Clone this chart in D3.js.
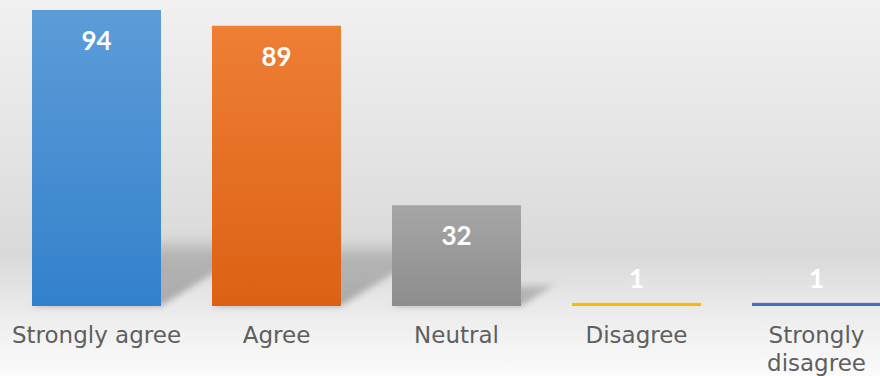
<!DOCTYPE html>
<html>
<head>
<meta charset="utf-8">
<script src="https://cdn.jsdelivr.net/npm/d3@7"></script>
<style>
  html, body { margin: 0; padding: 0; background: #fff; }
  svg { display: block; }
</style>
</head>
<body>
<div id="chart"></div>
<script>
// data
const categories = ['Strongly agree', 'Agree', 'Neutral', 'Disagree', 'Strongly disagree'];
const responses = [94, 89, 32, 1, 1];

// styling
const barTop = ['#5d9cd8', '#ee7f35', '#a6a6a6', '#ffc000', '#4a76c6'];
const barBottom = ['#3381cc', '#dc6114', '#8d8d8d', '#f2b400', '#3f68b8'];

const width = 880;
const height = 376;
const baseY = 306;
const topY = 10;

const catFont = '23px "DejaVu Sans", sans-serif';
const valFont = 'bold 26px Lato, "Open Sans", sans-serif';

const xScale = d3.scaleBand()
    .domain(categories)
    .range([6.5, 906.5])
    .paddingInner(0.2833)
    .paddingOuter(0.1417);

const yScale = d3.scaleLinear()
    .domain([0, 94])
    .range([baseY, topY]);

const svg = d3.select('#chart')
    .append('svg')
    .attr('width', width)
    .attr('height', height);

const defs = svg.append('defs');

// background
const bg = defs.append('linearGradient')
    .attr('id', 'bg')
    .attr('x1', 0).attr('y1', 0).attr('x2', 0).attr('y2', 1);
bg.append('stop').attr('offset', '0%').attr('stop-color', '#f1f1f1');
bg.append('stop').attr('offset', '45%').attr('stop-color', '#e2e2e2');
bg.append('stop').attr('offset', '68%').attr('stop-color', '#d9d9d9');
bg.append('stop').attr('offset', '85%').attr('stop-color', '#eeeeee');
bg.append('stop').attr('offset', '100%').attr('stop-color', '#fbfbfb');

svg.append('rect')
    .attr('width', width)
    .attr('height', height)
    .attr('fill', 'url(#bg)');

// gradients per bar
categories.forEach((c, i) => {
    const gr = defs.append('linearGradient')
        .attr('id', `bar${i}`)
        .attr('x1', 0).attr('y1', 0).attr('x2', 0).attr('y2', 1);
    gr.append('stop').attr('offset', '0%').attr('stop-color', barTop[i]);
    gr.append('stop').attr('offset', '100%').attr('stop-color', barBottom[i]);
});

const blur = defs.append('filter')
    .attr('id', 'blur')
    .attr('x', '-20%').attr('y', '-20%')
    .attr('width', '140%').attr('height', '140%');
blur.append('feGaussianBlur').attr('stdDeviation', 3);

const shadeGrad = defs.append('linearGradient')
    .attr('id', 'shade')
    .attr('x1', 0).attr('y1', 0).attr('x2', 0).attr('y2', 1);
shadeGrad.append('stop').attr('offset', '0%').attr('stop-color', '#9a9a9a').attr('stop-opacity', 0);
shadeGrad.append('stop').attr('offset', '30%').attr('stop-color', '#9a9a9a').attr('stop-opacity', 0.6);
shadeGrad.append('stop').attr('offset', '100%').attr('stop-color', '#9a9a9a').attr('stop-opacity', 0.8);

const data = categories.map((c, i) => ({cat: c, val: responses[i], i: i}));

// perspective shadows
svg.append('g')
    .attr('filter', 'url(#blur)')
    .selectAll('path')
    .data(data.filter(d => d.val > 5))
    .join('path')
    .attr('fill', 'url(#shade)')
    .attr('d', d => {
        const x0 = xScale(d.cat);
        const x1 = x0 + xScale.bandwidth();
        const h = baseY - yScale(d.val);
        const sh = h * 0.24;
        const dx = sh * 1.6;
        return `M${x0},${baseY}L${x1},${baseY}L${x1 + dx},${baseY - sh}L${x0 + dx},${baseY - sh}Z`;
    });

// bars
svg.append('g')
    .selectAll('rect')
    .data(data)
    .join('rect')
    .attr('x', d => xScale(d.cat))
    .attr('y', d => yScale(d.val))
    .attr('width', xScale.bandwidth())
    .attr('height', d => baseY - yScale(d.val))
    .attr('fill', d => `url(#bar${d.i})`);

// value labels
svg.append('g')
    .selectAll('text')
    .data(data)
    .join('text')
    .attr('x', d => xScale(d.cat) + xScale.bandwidth() / 2)
    .attr('y', d => (baseY - yScale(d.val) > 50) ? yScale(d.val) + 40 : baseY - 18)
    .attr('text-anchor', 'middle')
    .style('font', valFont)
    .attr('fill', '#ffffff')
    .text(d => d.val);

// category axis
const xAxis = svg.append('g')
    .attr('transform', `translate(0,${baseY})`)
    .call(d3.axisBottom(xScale).tickSize(0).tickPadding(0));
xAxis.select('.domain').remove();
xAxis.selectAll('.tick text').remove();
xAxis.selectAll('.tick').each(function (d) {
    const words = d.split(' ');
    const lines = (words.length > 1 && d.length > 15) ? [words[0], words.slice(1).join(' ')] : [d];
    const t = d3.select(this).append('text')
        .attr('text-anchor', 'middle')
        .style('font', catFont)
        .attr('fill', '#5f5f5f');
    lines.forEach((ln, k) => {
        t.append('tspan')
            .attr('x', 0)
            .attr('y', 37 + k * 28)
            .text(ln);
    });
});
</script>
</body>
</html>
